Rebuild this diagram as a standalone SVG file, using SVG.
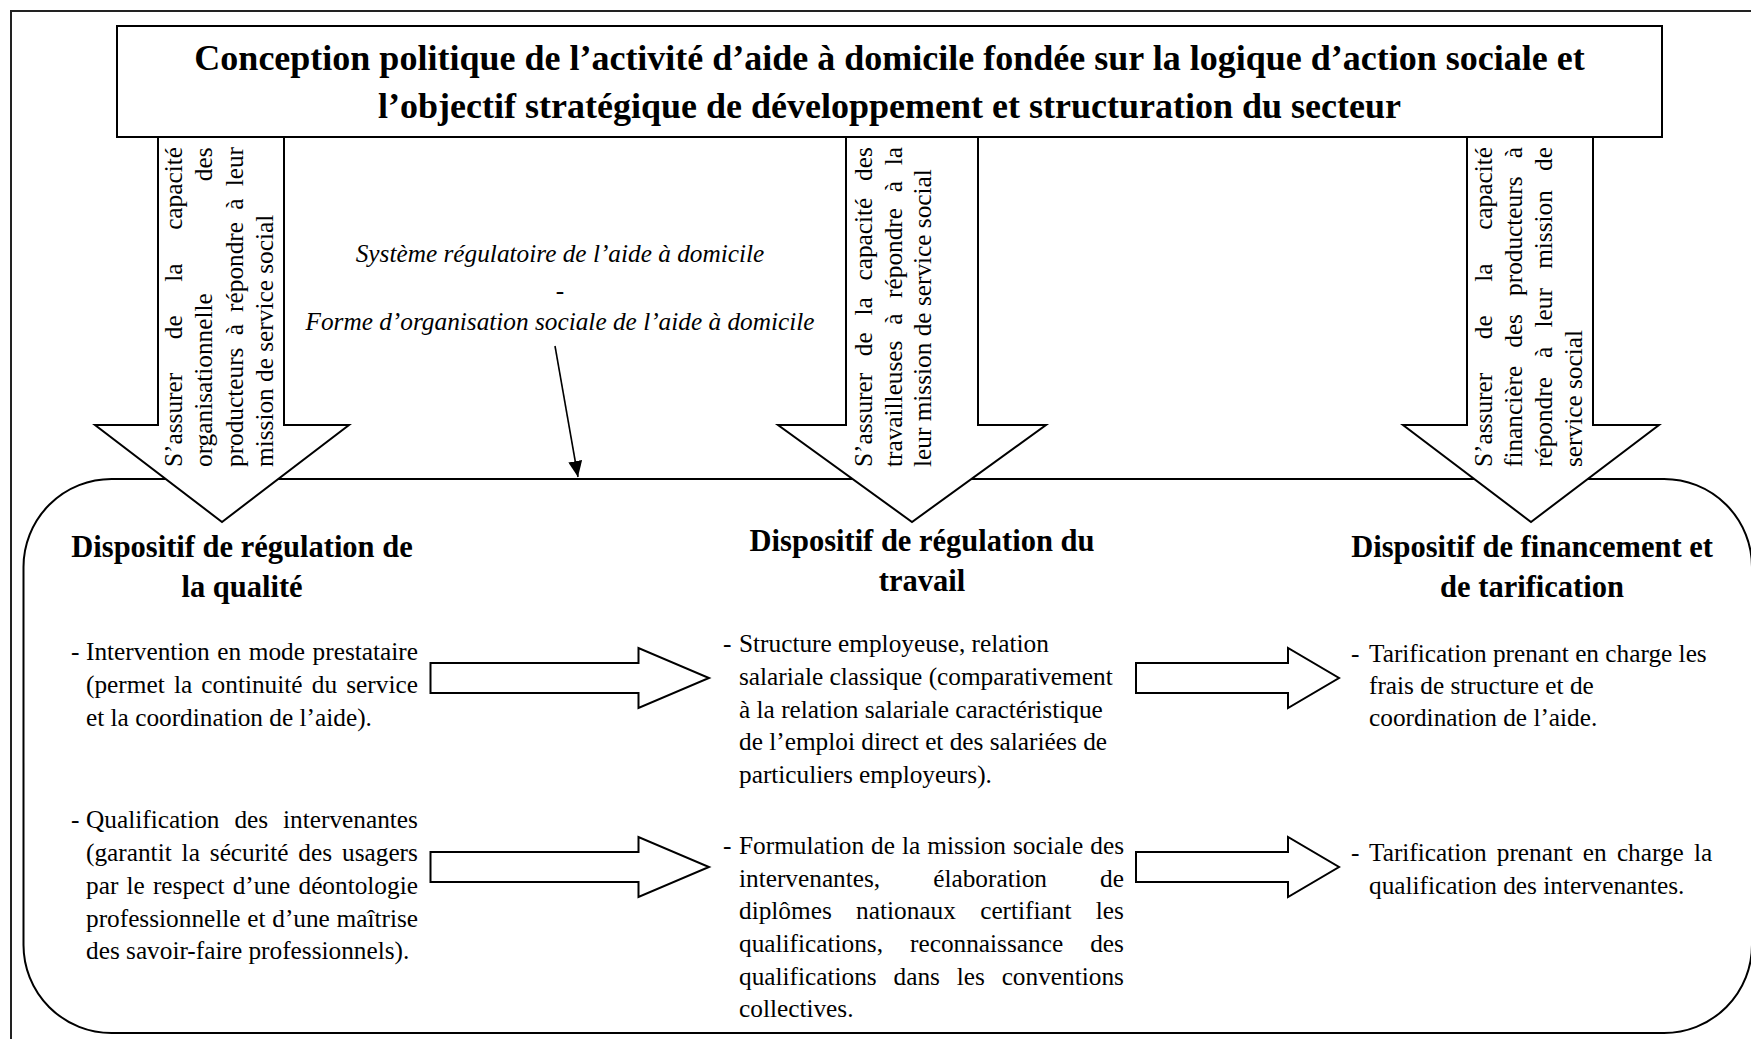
<svg xmlns="http://www.w3.org/2000/svg" width="1751" height="1039" viewBox="0 0 1751 1039">
<defs>
<style>
.t{font-family:"Liberation Serif","Times New Roman",serif;fill:#000}
.title{font-size:36px;font-weight:bold;text-anchor:middle}
.h{font-size:30.5px;font-weight:bold;text-anchor:middle}
.b{font-size:25.3px}
.i{font-size:25.3px;font-style:italic;text-anchor:middle}
.shape{fill:#fff;stroke:#000;stroke-width:2;stroke-linejoin:miter}
.frame{fill:none;stroke:#000;stroke-width:2}
</style>
<marker id="ah" markerUnits="userSpaceOnUse" markerWidth="16" markerHeight="14" refX="16" refY="7" orient="auto"><path d="M0,0 L16,7 L0,14 Z" fill="#000"/></marker>
</defs>
<rect width="1751" height="1039" fill="#fff"/>
<rect id="outer-frame" x="11" y="11" width="1760" height="1050" fill="none" stroke="#222" stroke-width="2"/>

<g id="regulation-frame">
<rect class="frame" x="23.5" y="479" width="1728.5" height="554" rx="88" ry="88"/>
</g>

<g id="connectors">
<g id="arrow-quality">
<polygon class="shape" points="158,137 284,137 284,425 349,425 222,522 95,425 158,425"/>
<text class="t b" transform="translate(182,467) rotate(-90)">
<tspan x="0" y="0" style="word-spacing:27.3px">S’assurer de la capacité</tspan>
<tspan x="0" y="30.3" style="word-spacing:105.7px">organisationnelle des</tspan>
<tspan x="0" y="60.6" style="word-spacing:5.9px">producteurs à répondre à leur</tspan>
<tspan x="0" y="90.9">mission de service social</tspan>
</text>
</g>
<g id="arrow-work">
<polygon class="shape" points="846,137 978,137 978,425 1046,425 912,522 778,425 846,425"/>
<text class="t b" transform="translate(872,467) rotate(-90)">
<tspan x="0" y="0" style="word-spacing:10.4px">S’assurer de la capacité des</tspan>
<tspan x="0" y="29.5" style="word-spacing:9.4px">travailleuses à répondre à la</tspan>
<tspan x="0" y="59">leur mission de service social</tspan>
</text>
</g>
<g id="arrow-funding">
<polygon class="shape" points="1467,137 1593,137 1593,425 1659,425 1531,522 1403,425 1467,425"/>
<text class="t b" transform="translate(1492,467) rotate(-90)">
<tspan x="0" y="0" style="word-spacing:27.3px">S’assurer de la capacité</tspan>
<tspan x="0" y="30" style="word-spacing:11.8px">financière des producteurs à</tspan>
<tspan x="0" y="60" style="word-spacing:12.9px">répondre à leur mission de</tspan>
<tspan x="0" y="90">service social</tspan>
</text>
</g>
<polygon class="shape" points="430.5,663 638.5,663 638.5,648 709,678 638.5,708 638.5,693 430.5,693"/>
<polygon class="shape" points="430.5,852 638.5,852 638.5,837 709,867 638.5,897 638.5,882 430.5,882"/>
<polygon class="shape" points="1136,663 1288,663 1288,648 1339,678 1288,708 1288,693 1136,693"/>
<polygon class="shape" points="1136,852 1288,852 1288,837 1339,867 1288,897 1288,882 1136,882"/>
<line x1="555" y1="346" x2="578" y2="477" stroke="#000" stroke-width="1.6" marker-end="url(#ah)"/>
</g>

<g id="title">
<rect class="shape" x="117" y="26" width="1545" height="111"/>
<text class="t title"><tspan x="889.5" y="70">Conception politique de l’activité d’aide à domicile fondée sur la logique d’action sociale et</tspan><tspan x="889.5" y="118">l’objectif stratégique de développement et structuration du secteur</tspan></text>
</g>

<g id="system-label">
<text class="t i"><tspan x="560" y="262">Système régulatoire de l’aide à domicile</tspan><tspan x="560" y="299">-</tspan><tspan x="560" y="330">Forme d’organisation sociale de l’aide à domicile</tspan></text>
</g>

<g id="col-quality">
<text class="t h"><tspan x="242" y="557">Dispositif de régulation de</tspan><tspan x="242" y="597">la qualité</tspan></text>
<text class="t b">
<tspan x="71" y="660">-</tspan>
<tspan x="86" y="660" style="word-spacing:1.3px">Intervention en mode prestataire</tspan>
<tspan x="86" y="693" style="word-spacing:2.9px">(permet la continuité du service</tspan>
<tspan x="86" y="726">et la coordination de l’aide).</tspan>
<tspan x="71" y="828">-</tspan>
<tspan x="86" y="828" style="word-spacing:8.6px">Qualification des intervenantes</tspan>
<tspan x="86" y="861" style="word-spacing:3.6px">(garantit la sécurité des usagers</tspan>
<tspan x="86" y="894" style="word-spacing:1.85px">par le respect d’une déontologie</tspan>
<tspan x="86" y="927" style="word-spacing:0.4px">professionnelle et d’une maîtrise</tspan>
<tspan x="86" y="959">des savoir-faire professionnels).</tspan>
</text>
</g>

<g id="col-work">
<text class="t h"><tspan x="922" y="551">Dispositif de régulation du</tspan><tspan x="922" y="591">travail</tspan></text>
<text class="t b">
<tspan x="723" y="652">-</tspan>
<tspan x="739" y="652">Structure employeuse, relation</tspan>
<tspan x="739" y="685">salariale classique (comparativement</tspan>
<tspan x="739" y="718">à la relation salariale caractéristique</tspan>
<tspan x="739" y="750">de l’emploi direct et des salariées de</tspan>
<tspan x="739" y="783">particuliers employeurs).</tspan>
<tspan x="723" y="854">-</tspan>
<tspan x="739" y="854" style="word-spacing:0.7px">Formulation de la mission sociale des</tspan>
<tspan x="739" y="887" style="word-spacing:46.7px">intervenantes, élaboration de</tspan>
<tspan x="739" y="919" style="word-spacing:18px">diplômes nationaux certifiant les</tspan>
<tspan x="739" y="952" style="word-spacing:20.7px">qualifications, reconnaissance des</tspan>
<tspan x="739" y="985" style="word-spacing:10.5px">qualifications dans les conventions</tspan>
<tspan x="739" y="1017">collectives.</tspan>
</text>
</g>

<g id="col-funding">
<text class="t h"><tspan x="1532" y="557">Dispositif de financement et</tspan><tspan x="1532" y="597">de tarification</tspan></text>
<text class="t b">
<tspan x="1351" y="662">-</tspan>
<tspan x="1369" y="662">Tarification prenant en charge les</tspan>
<tspan x="1369" y="694">frais de structure et de</tspan>
<tspan x="1369" y="726">coordination de l’aide.</tspan>
<tspan x="1351" y="861">-</tspan>
<tspan x="1369" y="861" style="word-spacing:3.85px">Tarification prenant en charge la</tspan>
<tspan x="1369" y="894">qualification des intervenantes.</tspan>
</text>
</g>
</svg>
